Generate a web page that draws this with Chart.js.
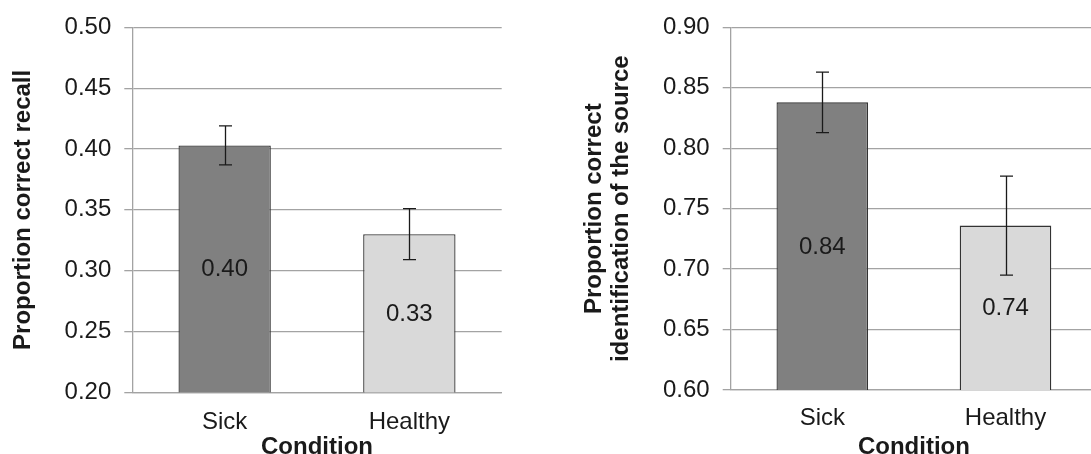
<!DOCTYPE html>
<html>
<head>
<meta charset="utf-8">
<script src="https://cdn.jsdelivr.net/npm/chart.js@4.4.1/dist/chart.umd.min.js"></script>
<style>
  html, body { margin: 0; padding: 0; background: #ffffff; overflow: hidden; width: 1091px; height: 454px; }
  canvas { position: absolute; top: 0; }
  #recall { left: 0; }
  #source { left: 560px; }
</style>
</head>
<body>
<canvas id="recall" width="520" height="480"></canvas>
<canvas id="source" width="560" height="480"></canvas>
<script>
// Conditions shown on both panels
const categories = ['Sick', 'Healthy'];

// Panel 1: proportion of items correctly recalled
const recallMeans = [0.403, 0.330];
const recallErrors = [0.016, 0.021];
const recallTicks = [0.20, 0.25, 0.30, 0.35, 0.40, 0.45, 0.50];

// Panel 2: proportion of sources correctly identified
const sourceMeans = [0.838, 0.736];
const sourceErrors = [0.025, 0.041];
const sourceTicks = [0.60, 0.65, 0.70, 0.75, 0.80, 0.85, 0.90];

const barColors = ['#808080', '#d9d9d9'];
const FONT = '"Liberation Sans", Arial, sans-serif';
const TEXT = '#1a1a1a';
const GRID = '#a3a3a3';

// Error bars: vertical whisker with caps, mean ± error
const errorBarPlugin = {
  id: 'errorBars',
  afterDatasetsDraw(chart, args, opts) {
    const ctx = chart.ctx;
    const meta = chart.getDatasetMeta(0);
    const y = chart.scales.y;
    const vals = chart.data.datasets[0].data;
    ctx.save();
    ctx.strokeStyle = '#1a1a1a';
    ctx.lineWidth = 1.3;
    meta.data.forEach((bar, i) => {
      const top = y.getPixelForValue(vals[i] + opts.errors[i]);
      const bot = y.getPixelForValue(vals[i] - opts.errors[i]);
      const x = Math.round(bar.x) + 0.5;
      ctx.beginPath();
      ctx.moveTo(x, top); ctx.lineTo(x, bot);
      ctx.moveTo(x - 6.5, top); ctx.lineTo(x + 6.5, top);
      ctx.moveTo(x - 6.5, bot); ctx.lineTo(x + 6.5, bot);
      ctx.stroke();
    });
    ctx.restore();
  }
};

// Mean value printed in the middle of the visible part of each bar
const valueLabelPlugin = {
  id: 'valueLabels',
  afterDatasetsDraw(chart) {
    const ctx = chart.ctx;
    const meta = chart.getDatasetMeta(0);
    const vals = chart.data.datasets[0].data;
    const floor = chart.chartArea.bottom;
    ctx.save();
    ctx.font = '24px ' + FONT;
    ctx.fillStyle = TEXT;
    ctx.textAlign = 'center';
    ctx.textBaseline = 'middle';
    meta.data.forEach((bar, i) => {
      const base = Math.min(bar.base, floor);
      ctx.fillText(vals[i].toFixed(2), bar.x, (bar.y + base) / 2 + 1);
    });
    ctx.restore();
  }
};

function makePanel(id, opts) {
  const canvas = document.getElementById(id);
  const H = canvas.height;
  return new Chart(canvas, {
    type: 'bar',
    data: {
      labels: categories,
      datasets: [{
        data: opts.means,
        backgroundColor: barColors,
        borderColor: '#333333',
        borderWidth: 1.3,
        borderSkipped: false,
        categoryPercentage: 1,
        barPercentage: 0.5
      }]
    },
    options: {
      responsive: false,
      animation: false,
      devicePixelRatio: 1,
      layout: { padding: { top: 25.7, right: opts.padRight, left: 0, bottom: 0 } },
      plugins: {
        legend: { display: false },
        tooltip: { enabled: false },
        errorBars: { errors: opts.errors }
      },
      scales: {
        x: {
          grid: { display: false, drawTicks: false },
          border: { display: true, color: GRID, width: 1.3 },
          ticks: { color: TEXT, font: { family: FONT, size: 24 }, padding: opts.xPad },
          title: {
            display: true, text: 'Condition', color: TEXT,
            font: { family: FONT, size: 24, weight: 'bold', lineHeight: 1.2 },
            padding: { top: 0, bottom: opts.xTitlePad }
          },
          afterFit(scale) { scale.height = H - opts.plotBottom; }
        },
        y: {
          min: opts.ticks[0],
          max: opts.ticks[opts.ticks.length - 1],
          afterBuildTicks(scale) { scale.ticks = opts.ticks.map(v => ({ value: v })); },
          grid: { color: GRID, lineWidth: 1.3, drawTicks: true, tickLength: 8, tickColor: GRID },
          border: { display: true, color: GRID, width: 1.3 },
          ticks: {
            color: TEXT, font: { family: FONT, size: 24 }, padding: 13,
            callback: v => Number(v).toFixed(2)
          },
          title: {
            display: true, text: opts.yTitle, color: TEXT,
            font: { family: FONT, size: 24, weight: 'bold', lineHeight: opts.yTitleLH },
            padding: { top: opts.yTitlePad, bottom: 0 }
          },
          afterFit(scale) { scale.width = opts.plotLeft; }
        }
      }
    },
    plugins: [errorBarPlugin, valueLabelPlugin]
  });
}

makePanel('recall', {
  means: recallMeans, errors: recallErrors, ticks: recallTicks,
  yTitle: 'Proportion correct recall', yTitleLH: 1.2, yTitlePad: 8.9,
  plotLeft: 132.3, plotBottom: 392.3, padRight: 18.3, xPad: 16, xTitlePad: 18.6
});

makePanel('source', {
  means: sourceMeans, errors: sourceErrors, ticks: sourceTicks,
  yTitle: ['Proportion correct', 'identification of the source'], yTitleLH: 1.13, yTitlePad: 20.4,
  plotLeft: 170.7, plotBottom: 390, padRight: 22.9, xPad: 13.5, xTitlePad: 18.6
});
</script>
</body>
</html>
